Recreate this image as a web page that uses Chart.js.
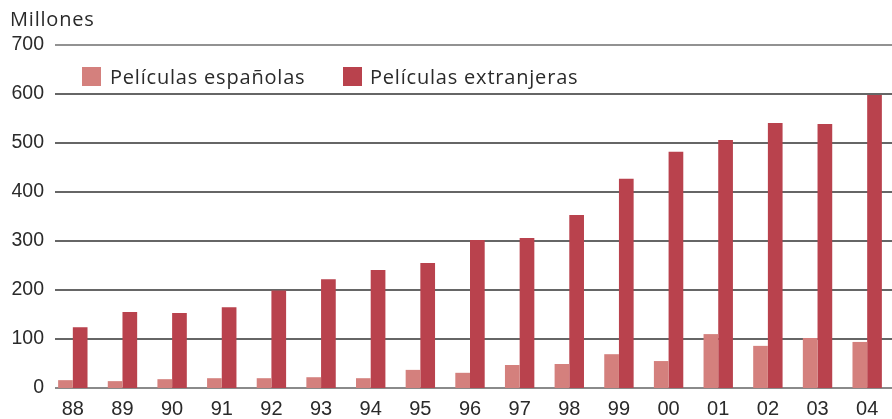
<!DOCTYPE html>
<html>
<head>
<meta charset="utf-8">
<script src="https://cdn.jsdelivr.net/npm/chart.js@4/dist/chart.umd.min.js"></script>
<style>
html,body{margin:0;padding:0;background:#fff;}
#wrap{width:892px;height:419px;position:relative;}
</style>
</head>
<body>
<div id="wrap"><canvas id="c" width="892" height="419"></canvas></div>
<script>
const categories = ["88","89","90","91","92","93","94","95","96","97","98","99","00","01","02","03","04"];
const spanish = [16,14,18,20,20,22,20,37,31,47,49,69,55,110,86,102,94];
const foreign = [124,155,153,165,199,222,241,255,302,306,353,427,482,506,541,539,598];
const seriesNames = ["Películas españolas","Películas extranjeras"];
const yTicks = [0,100,200,300,400,500,600,700];
const unitLabel = "Millones";

const FONT = "'Liberation Sans', Arial, sans-serif";
const TFONT = "'Open Sans', 'Liberation Sans', sans-serif";
const TEXT = "#2a2a2a";

const gridPlugin = {
  id: 'customGrid',
  beforeDatasetsDraw(chart) {
    const ctx = chart.ctx, y = chart.scales.y, area = chart.chartArea;
    ctx.save();
    yTicks.forEach(v => {
      const py = Math.round(y.getPixelForValue(v));
      ctx.beginPath();
      if (v === 0) { ctx.strokeStyle = '#8a8a8a'; ctx.lineWidth = 2; }
      else if (v === 700) { ctx.strokeStyle = '#6e6e6e'; ctx.lineWidth = 1.5; }
      else { ctx.strokeStyle = '#333333'; ctx.lineWidth = 1.5; }
      ctx.moveTo(55, py);
      ctx.lineTo(area.right, py);
      ctx.stroke();
    });
    ctx.restore();
  },
  afterDraw(chart) {
    const ctx = chart.ctx;
    ctx.save();
    ctx.fillStyle = TEXT;
    ctx.textBaseline = 'alphabetic';
    ctx.textAlign = 'left';
    ctx.font = "20px " + TFONT;
    if ('letterSpacing' in ctx) ctx.letterSpacing = '0.8px';
    ctx.fillText(unitLabel, 10, 26);
    const legendPos = [{sx:82, tx:110},{sx:343, tx:370}];
    chart.data.datasets.forEach((ds, i) => {
      const p = legendPos[i];
      ctx.fillStyle = ds.backgroundColor;
      ctx.fillRect(p.sx, 67, 19, 19);
      ctx.fillStyle = TEXT;
      ctx.fillText(ds.label, p.tx, 84);
    });
    ctx.restore();
  }
};

new Chart(document.getElementById('c'), {
  type: 'bar',
  data: {
    labels: categories,
    datasets: [
      {label: seriesNames[0], data: spanish, backgroundColor: '#d4807d', borderWidth: 0},
      {label: seriesNames[1], data: foreign, backgroundColor: '#b9424d', borderWidth: 0}
    ]
  },
  options: {
    responsive: false,
    animation: false,
    devicePixelRatio: 1,
    layout: {padding: {top: 45, right: 0, bottom: 0, left: 0}},
    plugins: {legend: {display: false}, tooltip: {enabled: false}, title: {display: false}},
    datasets: {bar: {categoryPercentage: 0.592, barPercentage: 1.0}},
    scales: {
      x: {
        grid: {display: false, drawTicks: false},
        border: {display: false},
        ticks: {color: TEXT, font: {family: FONT, size: 20}, padding: 9, maxRotation: 0, autoSkip: false},
        afterFit(s) { s.height = 31; }
      },
      y: {
        min: 0, max: 700,
        afterBuildTicks(s) { s.ticks = yTicks.map(v => ({value: v})); },
        grid: {display: false, drawTicks: false},
        border: {display: false},
        ticks: {color: TEXT, font: {family: FONT, size: 19.5}, padding: 4},
        afterFit(s) { s.width = 48; }
      }
    }
  },
  plugins: [gridPlugin]
});
</script>
</body>
</html>
